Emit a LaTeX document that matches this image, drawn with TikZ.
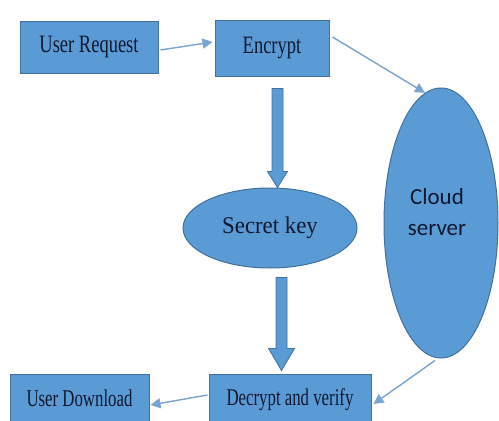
\documentclass[tikz,border=0pt]{standalone}
\usepackage{fontspec}
\usepackage{graphicx}
\setmainfont{Liberation Serif}
\newfontfamily\calib{Carlito}
\usetikzlibrary{shapes.geometric,arrows.meta,calc}
\definecolor{boxfill}{HTML}{5B9BD5}
\definecolor{boxline}{HTML}{41719C}
\definecolor{thinarr}{HTML}{7AA3CF}
\definecolor{txt}{HTML}{101830}
\newcommand{\sqtxt}[2]{\scalebox{#1}[1]{#2}}
\tikzset{
  flowbox/.style={rectangle,fill=boxfill,draw=boxline,line width=1pt,inner sep=0pt,text=txt},
  topfont/.style={font=\fontsize{25}{27}\selectfont},
  botfont/.style={font=\fontsize{24}{26}\selectfont},
  flowell/.style={ellipse,fill=boxfill,draw=boxline,line width=1pt,inner sep=0pt,text=txt},
  thinlink/.style={draw=thinarr,line width=1.4pt,-{Triangle[width=10pt,length=10pt]}},
  fatarrow/.style={fill=boxfill,draw=boxline,line width=0.8pt}
}
\begin{document}
\begin{tikzpicture}[x=1pt,y=-1pt]
\clip (0,0) rectangle (499,421);
\fill[white] (0,0) rectangle (499,421);
\node[flowbox,topfont,minimum width=138pt,minimum height=52pt] (ureq) at (89,47) {\sqtxt{0.74}{User Request}};
\node[flowbox,topfont,minimum width=114pt,minimum height=56pt] (enc) at (272,48) {\sqtxt{0.74}{Encrypt}};
\node[flowell,minimum width=114pt,minimum height=270pt] (cloud) at (441,223) {};
\node[text=txt,font=\calib\fontsize{23}{31}\selectfont,align=center] (cloudtxt) at (437,212) {Cloud\\server};
\node[flowell,minimum width=174pt,minimum height=80pt,font=\fontsize{24}{26}\selectfont] (key) at (270,228) {\sqtxt{0.95}{Secret key}};
\node[flowbox,botfont,minimum width=162pt,minimum height=52pt] (dec) at (290,400) {\raisebox{3pt}{\sqtxt{0.7}{Decrypt and verify}}};
\node[flowbox,botfont,minimum width=139pt,minimum height=52pt] (udl) at (79.5,400) {\raisebox{3pt}{\sqtxt{0.7}{User Download}}};
% thin connectors
\draw[thinlink] ([xshift=2pt,yshift=-3pt]ureq.east) -- ([xshift=-2pt,yshift=6pt]enc.west);
\draw[thinlink] ([xshift=3pt,yshift=11pt]enc.east) -- (cloud.97);
\draw[thinlink] ([xshift=-6pt,yshift=-2pt]cloud.south) -- ([xshift=2pt,yshift=-4pt]dec.east);
\draw[thinlink] ([xshift=-1pt,yshift=5pt]dec.west) -- ([xshift=1pt,yshift=-5pt]udl.east);
% fat arrows
\coordinate (a1s) at ($(enc.south)+(5.5,12)$);
\coordinate (a1t) at (a1s |- key.north);
\fill[fatarrow] ($(a1s)+(-5.5,0)$) -- ($(a1t)+(-5.5,-16)$) -- ($(a1t)+(-10,-16)$) -- (a1t) -- ($(a1t)+(10,-16)$) -- ($(a1t)+(5.5,-16)$) -- ($(a1s)+(5.5,0)$) -- cycle;
\coordinate (a2s) at ($(key.south)+(11.5,9)$);
\coordinate (a2t) at ($(a2s |- dec.north)+(0,-3)$);
\fill[fatarrow] ($(a2s)+(-5.5,0)$) -- ($(a2t)+(-5.5,-22)$) -- ($(a2t)+(-13,-22)$) -- (a2t) -- ($(a2t)+(13,-22)$) -- ($(a2t)+(5.5,-22)$) -- ($(a2s)+(5.5,0)$) -- cycle;
\end{tikzpicture}
\end{document}
